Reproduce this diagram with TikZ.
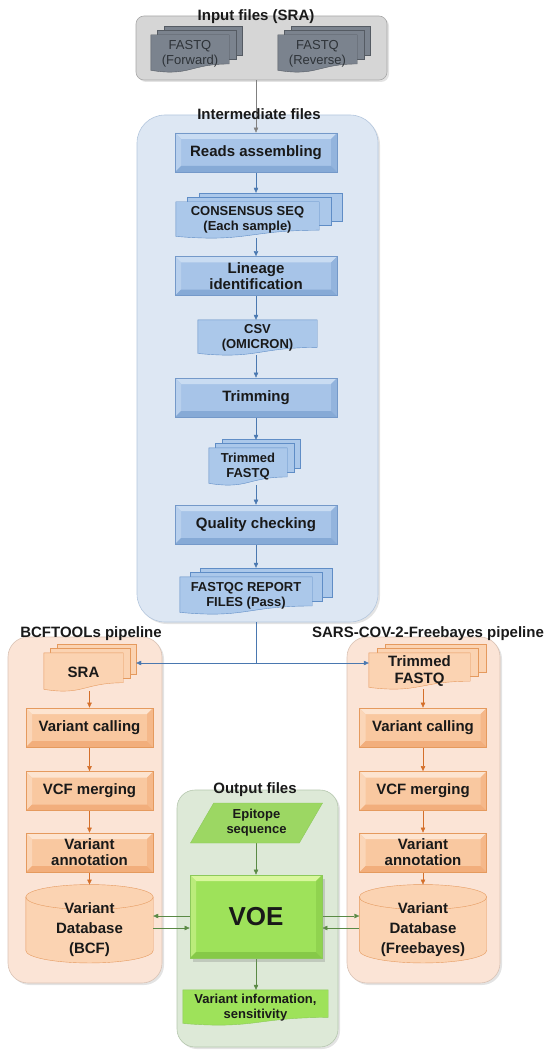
\documentclass[tikz,border=0pt]{standalone}
\usepackage{fontspec}
\setmainfont{Liberation Sans}
\usetikzlibrary{arrows.meta, positioning, calc, shapes.geometric, shadows}
\pgfdeclarelayer{background}
\pgfdeclarelayer{sheets}
\pgfsetlayers{background,sheets,main}

\definecolor{grayBg}{HTML}{D6D6D6}
\definecolor{grayBgLine}{HTML}{A8A8A8}
\definecolor{grayDoc}{HTML}{7B838E}
\definecolor{grayDocLine}{HTML}{555B63}
\definecolor{grayText}{HTML}{2E3338}
\definecolor{grayArrow}{HTML}{808080}
\definecolor{blueTop}{HTML}{C9DCF2}
\definecolor{blueFill}{HTML}{A7C4E8}
\definecolor{blueBot}{HTML}{86AAD6}
\definecolor{blueLine}{HTML}{7499C9}
\definecolor{blueDoc}{HTML}{ABC8EA}
\definecolor{blueDocLine}{HTML}{5F8DC6}
\definecolor{blueBg}{HTML}{DDE7F3}
\definecolor{blueBgLine}{HTML}{B3C6DD}
\definecolor{blueArrow}{HTML}{4A78B0}
\definecolor{orTop}{HTML}{FDE4D0}
\definecolor{orFill}{HTML}{F9C8A0}
\definecolor{orBot}{HTML}{F2AE7C}
\definecolor{orLine}{HTML}{E59A5E}
\definecolor{orDoc}{HTML}{FBD3B2}
\definecolor{orBg}{HTML}{FBE4D6}
\definecolor{orBgLine}{HTML}{D9C2B4}
\definecolor{orArrow}{HTML}{D46F2A}
\definecolor{grTop}{HTML}{D8F79C}
\definecolor{grFill}{HTML}{9EE25A}
\definecolor{grBot}{HTML}{86C948}
\definecolor{grLine}{HTML}{8CC95A}
\definecolor{grPara}{HTML}{9CD763}
\definecolor{grBg}{HTML}{DDE9D7}
\definecolor{grBgLine}{HTML}{B5C7AE}
\definecolor{grArrow}{HTML}{5A8A45}

% stacked document sheets behind a named node: node, extra sheets, x offset, fill, line
\newcommand{\docsheets}[5]{%
  \begin{pgfonlayer}{sheets}
    \ifnum#2>0
      \foreach \k in {#2,...,1}
        \filldraw[fill=#4, draw=#5] let \p1=(#1.north west), \p2=(#1.south east), \n1={\y1-\y2} in
          ({\x1+\k*#3},{\y1+\k*4.5}) rectangle ({\x2+\k*#3},{\y1-0.78*\n1+\k*4.5});
    \fi
    \filldraw[fill=#4, draw=#5] let \p1=(#1.north west), \p2=(#1.south east), \n1={\y1-\y2} in
      (\x1,\y1) -- (\x2,\y1) -- (\x2,{\y1-0.78*\n1})
      .. controls ({0.5*\x1+0.5*\x2},{\y1-0.78*\n1}) and ({0.5*\x1+0.5*\x2},{\y1-1.12*\n1}) .. (\x1,{\y1-0.95*\n1}) -- cycle;
  \end{pgfonlayer}}

% database drum behind a named node (top ellipse centred on the node's top edge)
\newcommand{\dbdrum}[1]{%
  \begin{pgfonlayer}{sheets}
    \filldraw[fill=orDoc, draw=orLine] let \p1=(#1.north west), \p2=(#1.south east) in
      (\x1,\y1) -- (\x1,{\y2+12.5pt})
      arc[start angle=180, end angle=360, x radius={(\x2-\x1)/2}, y radius=12.5pt]
      -- (\x2,\y1) arc[start angle=0, end angle=180, x radius={(\x2-\x1)/2}, y radius=12.5pt] -- cycle;
    \draw[orLine] let \p1=(#1.north west), \p2=(#1.south east) in
      (\x1,\y1) arc[start angle=180, end angle=360, x radius={(\x2-\x1)/2}, y radius=12.5pt];
  \end{pgfonlayer}}

\tikzset{
  panel/.style 2 args={rectangle, fill=#1, draw=#2, line width=0.6pt, inner sep=0pt,
    drop shadow={shadow xshift=2pt, shadow yshift=-2pt, opacity=0.22}},
  bevel/.style n args={4}{rectangle, fill=#2, draw=#4, line width=0.8pt, align=center, inner sep=2pt, text=black!90,
    path picture={
      \fill[#1] (path picture bounding box.north west) -- (path picture bounding box.north east)
        -- ([shift={(-6pt,-6pt)}]path picture bounding box.north east) -- ([shift={(6pt,-6pt)}]path picture bounding box.north west) -- cycle;
      \fill[#1!50!#2] (path picture bounding box.north west) -- ([shift={(6pt,-6pt)}]path picture bounding box.north west)
        -- ([shift={(6pt,6pt)}]path picture bounding box.south west) -- (path picture bounding box.south west) -- cycle;
      \fill[#3!60!#2] (path picture bounding box.north east) -- ([shift={(-6pt,-6pt)}]path picture bounding box.north east)
        -- ([shift={(-6pt,6pt)}]path picture bounding box.south east) -- (path picture bounding box.south east) -- cycle;
      \fill[#3] (path picture bounding box.south west) -- ([shift={(6pt,6pt)}]path picture bounding box.south west)
        -- ([shift={(-6pt,6pt)}]path picture bounding box.south east) -- (path picture bounding box.south east) -- cycle;
    }},
  bluestep/.style={bevel={blueTop}{blueFill}{blueBot}{blueLine}, minimum width=162pt, minimum height=39pt,
    font=\bfseries\fontsize{15}{16}\selectfont},
  orstep/.style={bevel={orTop}{orFill}{orBot}{orLine}, minimum width=127pt, minimum height=39pt,
    font=\bfseries\fontsize{15}{16}\selectfont},
  docnode/.style={rectangle, inner sep=1pt, align=center, text=black!90},
  title/.style={anchor=base, text=black!90, font=\bfseries\fontsize{15}{17}\selectfont},
  dbnode/.style={rectangle, minimum width=127pt, minimum height=65.5pt, align=center, inner sep=1pt,
    text=black!90, font=\bfseries\fontsize{15}{20}\selectfont},
}

\begin{document}
\begin{tikzpicture}[x=1pt, y=1pt, line width=0.8pt, >={Triangle[length=5pt,width=4.5pt]}]
  \useasboundingbox (0,0) rectangle (556,-1056);
  % panels
  \begin{pgfonlayer}{background}
    \node[panel={grayBg}{grayBgLine}, rounded corners=8pt, minimum width=251pt, minimum height=64pt] (inBox) at (261.5,-48) {};
    \node[panel={blueBg}{blueBgLine}, rounded corners=28pt, minimum width=241pt, minimum height=507pt] (midBox) at (257.5,-368.5) {};
    \node[panel={orBg}{orBgLine}, rounded corners=20pt, minimum width=154pt, minimum height=346pt] (bcfBox) at (85,-810) {};
    \node[panel={orBg}{orBgLine}, rounded corners=20pt, minimum width=153pt, minimum height=346pt] (fbBox) at (423.5,-810) {};
    \node[panel={grBg}{grBgLine}, rounded corners=18pt, minimum width=161pt, minimum height=257pt] (outBox) at (257.5,-918.5) {};
  \end{pgfonlayer}
  \node[title] (inTitle) at (256,-21) {Input files (SRA)};
  \node[title] (midTitle) at (259,-120) {Intermediate files};
  \node[title] (bcfTitle) at (91,-637) {BCFTOOLs pipeline};
  \node[title] (fbTitle) at (428,-637) {SARS-COV-2-Freebayes pipeline};
  \node[title] (outTitle) at (255,-793) {Output files};

  % input reads
  \node[docnode, text=grayText, font=\fontsize{13}{15}\selectfont, minimum width=78pt, minimum height=37pt] (fwd) at (190,-53.5) {FASTQ\\(Forward)};
  \node[docnode, text=grayText, font=\fontsize{13}{15}\selectfont, minimum width=79pt, minimum height=37pt] (rev) at (317.5,-53.5) {FASTQ\\(Reverse)};
  \docsheets{fwd}{2}{6.5}{grayDoc}{grayDocLine}
  \docsheets{rev}{2}{6.5}{grayDoc}{grayDocLine}

  % intermediate steps
  \node[bluestep] (reads) at (256,-152.5) {Reads assembling};
  \node[bluestep] (lineage) at (256,-276) {Lineage\\identification};
  \node[bluestep] (trim) at (256,-397.5) {Trimming};
  \node[bluestep] (qual) at (256,-524.5) {Quality checking};
  \begin{scope}[every node/.append style={font=\bfseries\fontsize{13}{15}\selectfont}]
    \node[docnode, minimum width=143pt, minimum height=36pt] (cons) at (247.5,-220) {CONSENSUS SEQ\\(Each sample)};
    \node[docnode, minimum width=119pt, minimum height=35pt] (csv) at (257.5,-337.5) {CSV\\(OMICRON)};
    \node[docnode, minimum width=78pt, minimum height=37pt] (trimfq) at (248,-466.5) {Trimmed\\FASTQ};
    \node[docnode, minimum width=132pt, minimum height=37pt] (qcrep) at (246,-595.5) {FASTQC REPORT\\FILES (Pass)};
  \end{scope}
  \docsheets{cons}{2}{11.5}{blueDoc}{blueDocLine}
  \docsheets{csv}{0}{0}{blueDoc}{blueDocLine}
  \docsheets{trimfq}{2}{6.5}{blueDoc}{blueDocLine}
  \docsheets{qcrep}{2}{10}{blueDoc}{blueDocLine}

  % two pipelines
  \begin{scope}[every node/.append style={font=\bfseries\fontsize{15}{17}\selectfont}]
    \node[docnode, minimum width=79pt, minimum height=38pt] (sra) at (83.5,-672) {SRA};
    \node[docnode, minimum width=101pt, minimum height=36pt] (trimR) at (419.5,-671) {Trimmed\\FASTQ};
  \end{scope}
  \docsheets{sra}{2}{6.5}{orDoc}{orLine}
  \docsheets{trimR}{2}{8}{orDoc}{orLine}
  \node[orstep] (vcL) at (89.5,-727.5) {Variant calling};
  \node[orstep] (mergeL) at (89.5,-791) {VCF merging};
  \node[orstep] (annotL) at (89.5,-852.5) {Variant\\annotation};
  \node[dbnode] (dbL) at (89.5,-930) {Variant\\Database\\(BCF)};
  \node[orstep] (vcR) at (423,-727.5) {Variant calling};
  \node[orstep] (mergeR) at (423,-791) {VCF merging};
  \node[orstep] (annotR) at (423,-852.5) {Variant\\annotation};
  \node[dbnode] (dbR) at (423,-930) {Variant\\Database\\(Freebayes)};
  \dbdrum{dbL}
  \dbdrum{dbR}

  % output
  \node[trapezium, trapezium left angle=60, trapezium right angle=120, trapezium stretches=true,
    minimum width=133pt, minimum height=40pt, draw=grLine, fill=grPara, align=center, inner sep=1pt,
    text=black!90, font=\bfseries\fontsize{13}{15}\selectfont] (epi) at (256.5,-823) {Epitope\\sequence};
  \node[bevel={grTop}{grFill}{grBot}{grLine}, minimum width=132pt, minimum height=83pt,
    drop shadow={shadow xshift=3pt, shadow yshift=-4pt, opacity=0.3},
    font=\bfseries\fontsize{26}{28}\selectfont] (voe) at (256,-916.5) {VOE};
  \node[docnode, font=\bfseries\fontsize{13}{15}\selectfont, minimum width=145pt, minimum height=35pt] (info) at (255.5,-1007.5) {Variant information,\\sensitivity};
  \docsheets{info}{0}{0}{grFill}{grLine}

  % connectors, kept under the boxes
  \begin{pgfonlayer}{sheets}
  \draw[grayArrow, ->] (inBox.south -| reads.north) -- (reads.north);
  \begin{scope}[blueArrow]
    \draw[->, shorten >=9pt] (reads.south) -- (reads.south |- cons.north);
    \draw[->] (lineage.north |- cons.south) -- (lineage.north);
    \draw[->] (lineage.south) -- (lineage.south |- csv.north);
    \draw[->] (trim.north |- csv.south) -- (trim.north);
    \draw[->, shorten >=8pt] (trim.south) -- (trim.south |- trimfq.north);
    \draw[->] (qual.north |- trimfq.south) -- (qual.north);
    \draw[->, shorten >=9pt] (qual.south) -- (qual.south |- qcrep.north);
    \coordinate (split) at (256,-663);
    \coordinate (sraTip) at ([xshift=13pt]sra.east);
    \draw (midBox.south -| qual.south) -- (split);
    \draw[->] (split) -- (sraTip |- split);
    \draw[->] (split) -- (split -| trimR.west);
  \end{scope}
  \begin{scope}[orArrow]
    \draw[->] (vcL.north |- sra.south) -- (vcL.north);
    \draw[->] (vcL.south) -- (mergeL.north);
    \draw[->] (mergeL.south) -- (annotL.north);
    \draw[->, shorten >=12.5pt] (annotL.south) -- (dbL.north);
    \draw[->] (vcR.north |- trimR.south) -- (vcR.north);
    \draw[->] (vcR.south) -- (mergeR.north);
    \draw[->] (mergeR.south) -- (annotR.north);
    \draw[->, shorten >=12.5pt] (annotR.south) -- (dbR.north);
  \end{scope}
  \begin{scope}[grArrow]
    \draw[->] (voe.north |- epi.south) -- (voe.north);
    \draw[->] (voe.south) -- (voe.south |- info.north);
    \path ([yshift=14pt]dbL.east) coordinate (dbLa) ([yshift=2pt]dbL.east) coordinate (dbLb)
          ([yshift=14pt]dbR.west) coordinate (dbRa) ([yshift=2pt]dbR.west) coordinate (dbRb);
    \draw[->] (dbLa -| voe.west) -- (dbLa);
    \draw[->] (dbLb) -- (dbLb -| voe.west);
    \draw[->] (dbRa -| voe.east) -- (dbRa);
    \draw[->] (dbRb) -- (dbRb -| voe.east);
  \end{scope}
  \end{pgfonlayer}
\end{tikzpicture}
\end{document}
